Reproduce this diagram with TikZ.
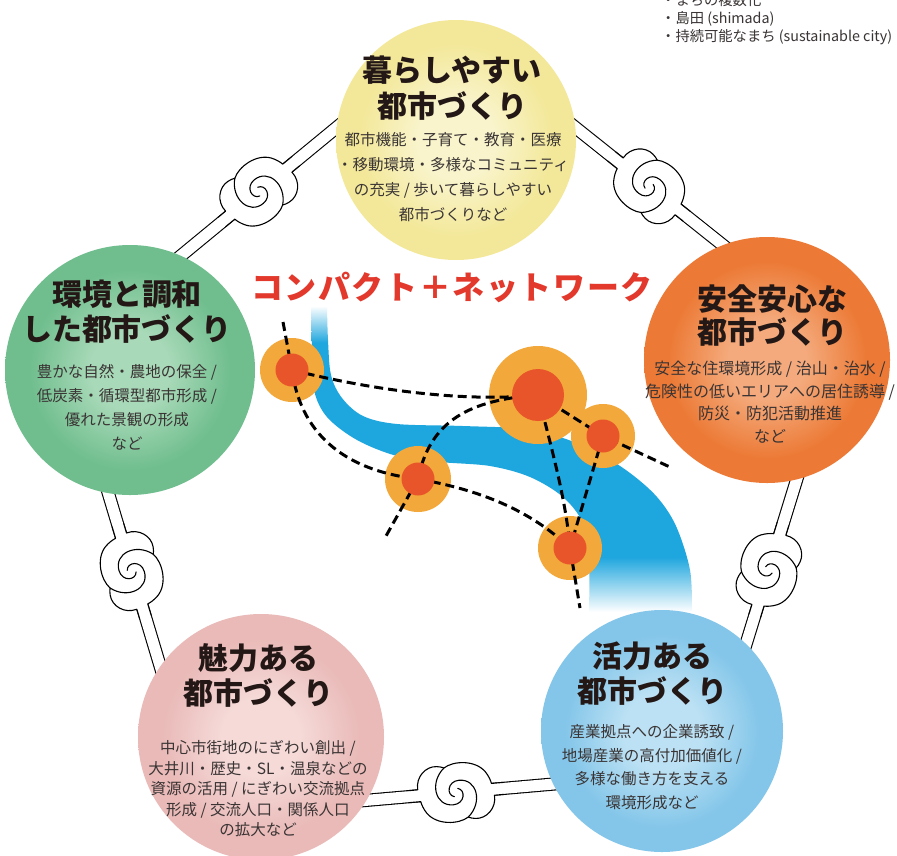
\documentclass[tikz,border=0pt]{standalone}
\usepackage{fontspec}
\newfontfamily\jp{Noto Sans CJK JP}
\newfontfamily\jpwide[LetterSpace=5]{Noto Sans CJK JP}
\usetikzlibrary{calc}

\pgfdeclarelayer{paper}
\pgfdeclarelayer{chain}
\pgfdeclarelayer{water}
\pgfsetlayers{paper,chain,water,main}

% theme colours
\definecolor{yelBase}{HTML}{F3E89A}
\definecolor{yelPale}{HTML}{F9F4CC}
\definecolor{grnBase}{HTML}{70BE8E}
\definecolor{grnPale}{HTML}{A8D9B8}
\definecolor{orgBase}{HTML}{EC7A36}
\definecolor{orgPale}{HTML}{F4AA7C}
\definecolor{pnkBase}{HTML}{E9BAB8}
\definecolor{pnkPale}{HTML}{F5DAD8}
\definecolor{bluBase}{HTML}{84C6E9}
\definecolor{bluPale}{HTML}{BCE1F4}
\definecolor{riverBlue}{HTML}{1EA6DE}
\definecolor{hubAmber}{HTML}{F2A83A}
\definecolor{hubCore}{HTML}{E9552A}
\definecolor{titleRed}{HTML}{E2392C}
\definecolor{ink}{HTML}{231815}
\definecolor{bodyInk}{HTML}{3A3434}

% watercolour-like discs: pale centre, solid rim
\pgfdeclareradialshading{shYel}{\pgfpoint{0bp}{0bp}}{color(0bp)=(yelPale); color(8bp)=(yelPale); color(20bp)=(yelBase); color(50bp)=(yelBase)}
\pgfdeclareradialshading{shGrn}{\pgfpoint{0bp}{0bp}}{color(0bp)=(grnPale); color(8bp)=(grnPale); color(20bp)=(grnBase); color(50bp)=(grnBase)}
\pgfdeclareradialshading{shOrg}{\pgfpoint{0bp}{0bp}}{color(0bp)=(orgPale); color(8bp)=(orgPale); color(20bp)=(orgBase); color(50bp)=(orgBase)}
\pgfdeclareradialshading{shPnk}{\pgfpoint{0bp}{0bp}}{color(0bp)=(pnkPale); color(8bp)=(pnkPale); color(20bp)=(pnkBase); color(50bp)=(pnkBase)}
\pgfdeclareradialshading{shBlu}{\pgfpoint{0bp}{0bp}}{color(0bp)=(bluPale); color(8bp)=(bluPale); color(20bp)=(bluBase); color(50bp)=(bluBase)}
% river fading out at both ends
\pgfdeclareverticalshading{shRiver}{100bp}{color(0bp)=(white); color(25bp)=(white); color(34bp)=(riverBlue); color(69bp)=(riverBlue); color(75bp)=(white); color(100bp)=(white)}

\tikzset{
  bubble/.style={circle, inner sep=0pt, outer sep=0pt, shade},
  headtext/.style={font=\jp\bfseries\fontsize{30}{#1}\selectfont, text=ink, align=center, inner sep=0pt},
  headtext/.default=36,
  bodytext/.style={font=\jp\fontsize{15.5}{#1}\selectfont, text=bodyInk, align=center, inner sep=0pt},
  chainband/.style={draw=black, line width=1.1pt, double=white, double distance=11pt,
                    shorten <=-24pt, shorten >=-24pt},
  knotline/.style={draw=black, line width=1.1pt, line join=round, line cap=round},
  halo/.style={circle, fill=hubAmber, inner sep=0pt, outer sep=0pt},
  core/.style={circle, fill=hubCore, inner sep=0pt, outer sep=0pt},
  rail/.style={draw=black, line width=3pt, dash pattern=on 9pt off 5pt},
  knot/.pic={
    \fill[white] (-48,-6) -- (-38,-6) .. controls (-39,-19) and (-28,-29) .. (-17,-27.5)
        .. controls (-14,-27) and (-11.5,-26.5) .. (-10,-25.5)
        .. controls (0,-32) and (22,-31) .. (31,-18) .. controls (34,-13.5) and (35.5,-9) .. (36,-6) -- (48,-6)
        -- (48,6) -- (38,6) .. controls (39,19) and (28,29) .. (17,27.5)
        .. controls (14,27) and (11.5,26.5) .. (10,25.5)
        .. controls (0,32) and (-22,31) .. (-31,18) .. controls (-34,13.5) and (-35.5,9) .. (-36,6) -- (-48,6) -- cycle;
    \draw[knotline] (-48,-6) -- (-38,-6) .. controls (-39,-19) and (-28,-29) .. (-17,-27.5)
        .. controls (-14,-27) and (-11.5,-26.5) .. (-10,-25.5)
        .. controls (0,-32) and (22,-31) .. (31,-18) .. controls (34,-13.5) and (35.5,-9) .. (36,-6) -- (48,-6);
    \draw[knotline] (48,6) -- (38,6) .. controls (39,19) and (28,29) .. (17,27.5)
        .. controls (14,27) and (11.5,26.5) .. (10,25.5)
        .. controls (0,32) and (-22,31) .. (-31,18) .. controls (-34,13.5) and (-35.5,9) .. (-36,6) -- (-48,6);
    \draw[knotline] (-10,-25.5) .. controls (-26,-12) and (-22,12) .. (-4,12) .. controls (8,12) and (10,-2) .. (2,-4);
    \draw[knotline] (10,25.5) .. controls (26,12) and (22,-12) .. (4,-12) .. controls (-8,-12) and (-10,2) .. (-2,4);
  }
}

\begin{document}
\begin{tikzpicture}[x=1pt, y=-1pt]
\useasboundingbox (0,0) rectangle (897,855);
\begin{pgfonlayer}{paper}
  \fill[white] (0,0) rectangle (897,855);
\end{pgfonlayer}

% five themes
\node[bubble, minimum size=240pt, shading=shYel] (live) at (456,140) {};
\node[bubble, minimum size=250pt, shading=shGrn] (green) at (130,370) {};
\node[bubble, minimum size=246pt, shading=shOrg] (safe) at (767,360) {};
\node[bubble, minimum size=246pt, shading=shPnk] (charm) at (261,737) {};
\node[bubble, minimum size=242pt, shading=shBlu] (vital) at (662,731) {};

\node[headtext] (liveHead) at (452,88) {暮らしやすい\\都市づくり};
\node[bodytext=25] (liveBody) at (453,177) {都市機能・子育て・教育・医療\\・移動環境・多様なコミュニティ\\の充実 / 歩いて暮らしやすい\\都市づくりなど};

\node[headtext=35] (greenHead) at (127,312) {環境と調和\\した都市づくり};
\node[bodytext=24] (greenBody) at (127,407) {豊かな自然・農地の保全 /\\低炭素・循環型都市形成 /\\優れた景観の形成\\など};

\node[headtext=33] (safeHead) at (772,316) {安全安心な\\都市づくり};
\node[bodytext=22.5, font=\jp\fontsize{16}{22.5}\selectfont] (safeBody) at (770,402) {安全な住環境形成 / 治山・治水 /\\危険性の低いエリアへの居住誘導 /\\防災・防犯活動推進\\など};

\node[headtext=35] (charmHead) at (258,675) {魅力ある\\都市づくり};
\node[bodytext=20.5] (charmBody) at (258,789) {中心市街地のにぎわい創出 /\\大井川・歴史・SL・温泉などの\\資源の活用 / にぎわい交流拠点\\形成 / 交流人口・関係人口\\の拡大など};

\node[headtext=35] (vitalHead) at (652,674) {活力ある\\都市づくり};
\node[bodytext=23.5] (vitalBody) at (652,767) {産業拠点への企業誘致 /\\地場産業の高付加価値化 /\\多様な働き方を支える\\環境形成など};

% chain links joining the themes
\begin{pgfonlayer}{chain}
  \draw[chainband] (live.174) -- (green.66);
  \draw[chainband] (live.6) -- (safe.111);
  \draw[chainband] (green.260) -- (charm.145);
  \draw[chainband] (safe.284) -- (vital.46);
  \draw[chainband] (charm.329) -- (vital.206);
  \path (live.174) -- (green.66) pic[pos=0.5, sloped] {knot};
  \path (live.6) -- (safe.111) pic[pos=0.5, sloped] {knot};
  \path (green.260) -- (charm.145) pic[pos=0.45, sloped] {knot};
  \path (safe.284) -- (vital.46) pic[pos=0.55, sloped] {knot};
  \path (charm.329) -- (vital.206) pic[pos=0.48, sloped] {knot};
\end{pgfonlayer}

% river
\begin{pgfonlayer}{water}
  \shade[shading=shRiver]
    plot[smooth, tension=0.55] coordinates {(311,306) (312,350) (314,390) (327,417) (357,440) (397,456) (440,462) (490,466) (530,477) (563,497) (583,523) (589,555) (589,612)}
    -- plot[smooth, tension=0.55] coordinates {(692,612) (690,570) (676,526) (657,497) (630,473) (597,452) (563,438) (530,429) (463,426) (397,424) (363,416) (342,398) (331,375) (328,340) (327,306)}
    -- cycle;
\end{pgfonlayer}

% compact hubs and network
\node[halo, minimum size=64pt] (hA) at (292,370) {};
\node[halo, minimum size=98pt] (hB) at (538,395) {};
\node[halo, minimum size=64pt] (hC) at (603,436) {};
\node[halo, minimum size=66pt] (hD) at (418,479) {};
\node[halo, minimum size=64pt] (hE) at (570,548) {};

\coordinate (aTail) at (283,322);
\coordinate (dTail) at (386,536);
\coordinate (cTail) at (672,468);
\coordinate (eTail) at (580,608);

\draw[rail] (aTail) -- (hA.center);
\draw[rail] (hA.center) .. controls (380,392) and (470,402) .. (hB.center);
\draw[rail] (hA.center) .. controls (300,430) and (340,470) .. (hD.center);
\draw[rail] (hD.center) -- (dTail);
\draw[rail] (hD.center) .. controls (430,420) and (470,400) .. (hB.center);
\draw[rail] (hD.center) .. controls (480,490) and (530,510) .. (hE.center);
\draw[rail] (hB.center) .. controls (552,450) and (566,500) .. (hE.center);
\draw[rail] (hC.center) -- (hE.center);
\draw[rail] (hB.center) -- (hC.center) -- (cTail);
\draw[rail] (hE.center) -- (eTail);

\node[core, minimum size=33pt] (cA) at (hA) {};
\node[core, minimum size=52pt] (cB) at (hB) {};
\node[core, minimum size=33pt] (cC) at (hC) {};
\node[core, minimum size=33pt] (cD) at (hD) {};
\node[core, minimum size=33pt] (cE) at (hE) {};

\node[font=\jpwide\bfseries\fontsize{32}{32}\selectfont, text=titleRed, inner sep=0pt] (slogan) at (452,287) {コンパクト＋ネットワーク};

\node[anchor=west, align=left, inner sep=0pt, text=bodyInk, font=\jp\fontsize{14.3}{18}\selectfont] (memo) at (661,19.5) {・まちの複数化\\・島田 (shimada)\\・持続可能なまち (sustainable city)};
\end{tikzpicture}
\end{document}
